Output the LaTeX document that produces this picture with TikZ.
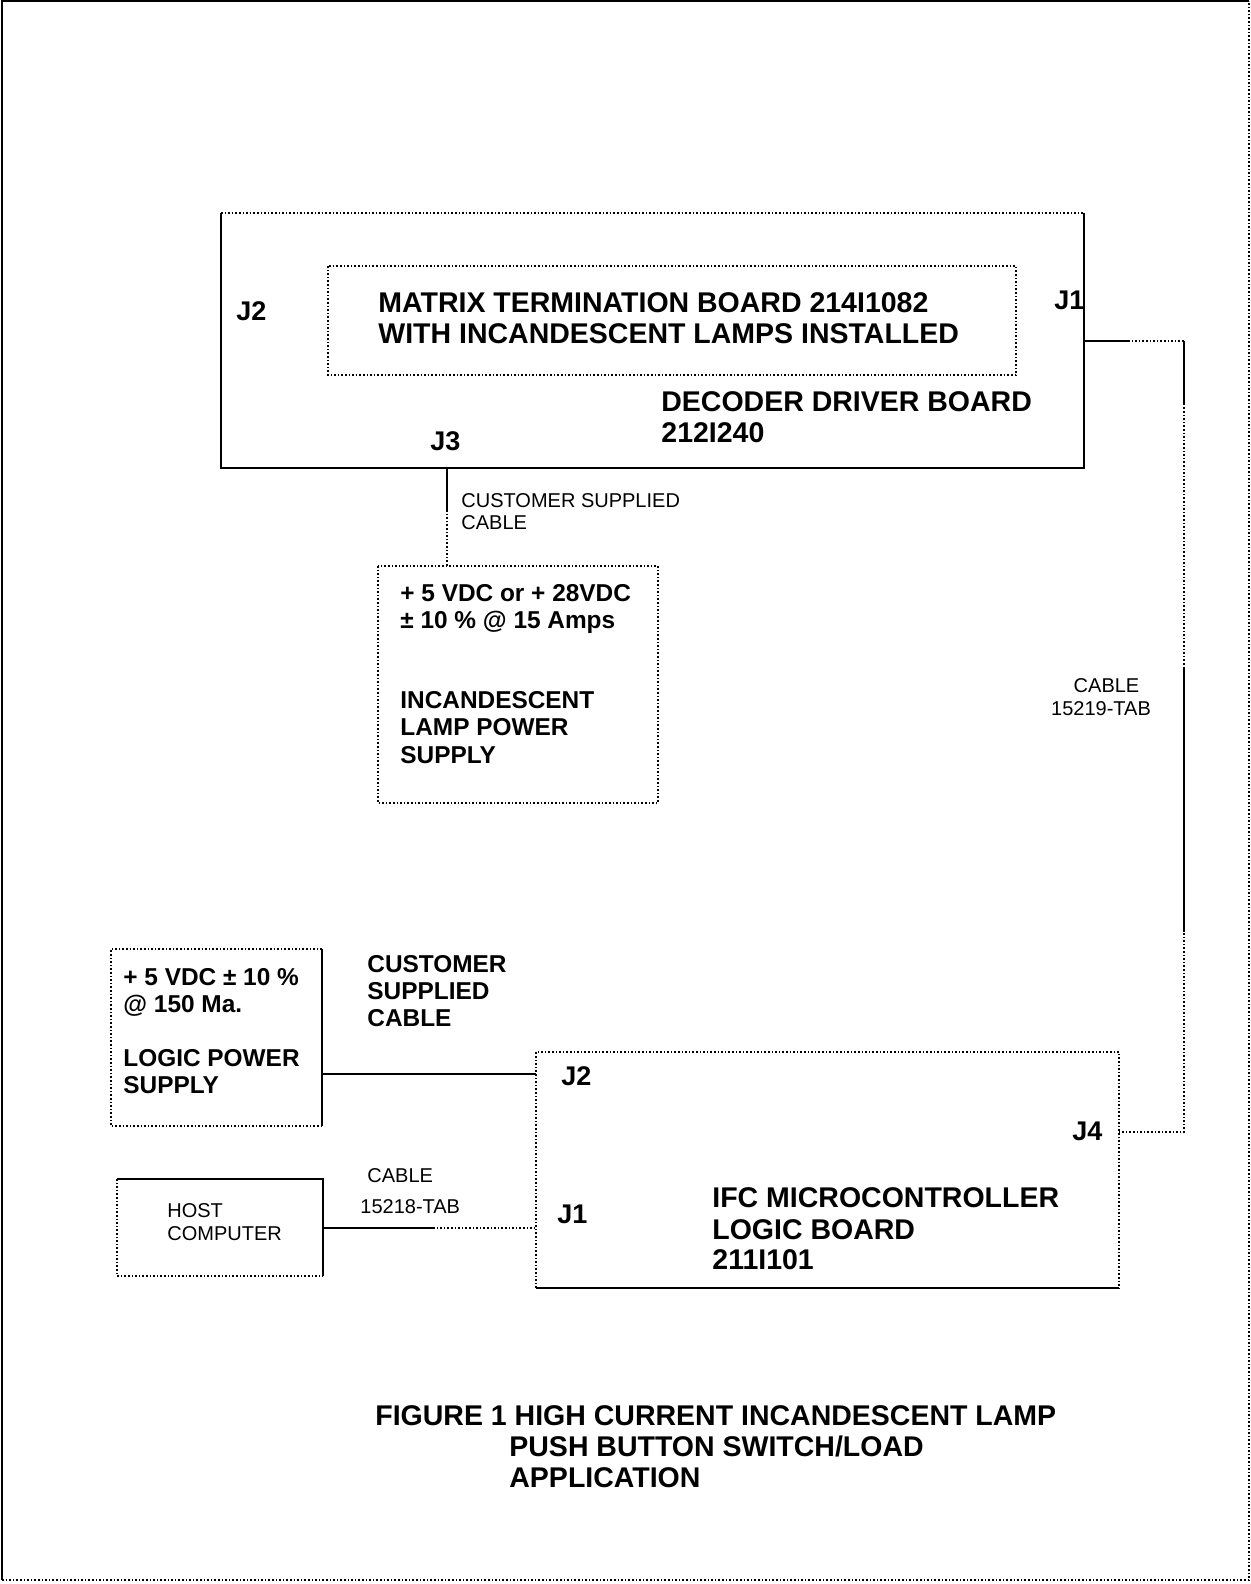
\documentclass[tikz,border=0pt]{standalone}
\usepackage{fontspec}
\setmainfont{Liberation Sans}
\usetikzlibrary{calc}
\tikzset{
  box/.style={rectangle,draw=none,inner sep=0pt,outer sep=0pt},
  sline/.style={line width=0.75pt},
  dline/.style={line width=0.8pt,densely dotted},
  bigt/.style={font=\fontsize{14.25}{16}\selectfont\bfseries,anchor=base west,inner sep=0pt},
  midt/.style={font=\fontsize{12.2}{14}\selectfont\bfseries,anchor=base west,inner sep=0pt},
  jt/.style={font=\fontsize{13.5}{15}\selectfont\bfseries,anchor=base west,inner sep=0pt},
  smt/.style={font=\fontsize{10}{12}\selectfont,anchor=base west,inner sep=0pt},
  smc/.style={font=\fontsize{10}{12}\selectfont,anchor=base,inner sep=0pt}
}
\begin{document}
\begin{tikzpicture}[x=0.5pt,y=-0.5pt]
\useasboundingbox (0,0) rectangle (1251,1584);
% outer frame
\draw[sline] (2,1580) -- (2,1) -- (1249,1);
\draw[dline] (2,1580) -- (1249,1580) -- (1249,1);

% boxes
\node[box,minimum width=431.5pt,minimum height=127.5pt] (dec) at (652.5,340.5) {};
\node[box,minimum width=344pt,minimum height=54.5pt] (mat) at (672,320.5) {};
\node[box,minimum width=140pt,minimum height=118.5pt] (lamp) at (518,684.5) {};
\node[box,minimum width=105.5pt,minimum height=88.5pt] (lps) at (216.5,1037.5) {};
\node[box,minimum width=291.5pt,minimum height=118pt] (ifc) at (827.5,1170) {};
\node[box,minimum width=103pt,minimum height=48.5pt] (host) at (220,1227.5) {};

% box outlines
\draw[dline] (dec.north west) -- (dec.north east);
\draw[sline] (dec.north east) -- (dec.south east) -- (dec.south west) -- (dec.north west);
\draw[dline] (mat.north west) rectangle (mat.south east);
\draw[dline] (lamp.north west) rectangle (lamp.south east);
\draw[dline] (lps.north east) -- (lps.north west) -- (lps.south west) -- (lps.south east);
\draw[sline] (lps.north east) -- (lps.south east);
\draw[dline] (ifc.south west) -- (ifc.north west) -- (ifc.north east) -- (ifc.south east);
\draw[sline] (ifc.south west) -- (ifc.south east);
\draw[sline] (host.north west) -- (host.north east) -- (host.south east);
\draw[dline] (host.north west) -- (host.south west) -- (host.south east);

% texts: decoder / matrix
\node[bigt] (mat1) at (378,312) {MATRIX TERMINATION BOARD 214I1082};
\node[bigt] (mat2) at (378,343.5) {WITH INCANDESCENT LAMPS INSTALLED};
\node[bigt] (dec1) at (661,411) {DECODER DRIVER BOARD};
\node[bigt] (dec2) at (661,442.5) {212I240};
\node[jt] (dj2) at (236,320) {J2};
\node[jt] (dj1) at (1054,309) {J1};
\node[jt] (dj3) at (430,450.5) {J3};

% customer supplied cable (small)
\node[smt] (cs1) at (461,507) {CUSTOMER SUPPLIED};
\node[smt] (cs2) at (461,529.5) {CABLE};

% lamp power supply
\node[midt] (lp1) at (400,601) {+ 5 VDC or + 28VDC};
\node[midt] (lp2) at (400,628.5) {± 10 \% @ 15 Amps};
\node[midt] (lp3) at (400,708) {INCANDESCENT};
\node[midt] (lp4) at (400,735.5) {LAMP POWER};
\node[midt] (lp5) at (400,763) {SUPPLY};

% cable 15219
\node[smc] (c19a) at (1106.5,692) {CABLE};
\node[smc] (c19b) at (1101,715) {15219-TAB};

% logic power supply
\node[midt] (lg1) at (123,985) {+ 5 VDC ± 10 \%};
\node[midt] (lg2) at (123,1012.5) {@ 150 Ma.};
\node[midt] (lg3) at (123,1066) {LOGIC POWER};
\node[midt] (lg4) at (123,1093) {SUPPLY};

\node[midt] (cb1) at (367,972) {CUSTOMER};
\node[midt] (cb2) at (367,999) {SUPPLIED};
\node[midt] (cb3) at (367,1026.5) {CABLE};

% IFC
\node[jt] (ij2) at (561,1085) {J2};
\node[jt] (ij4) at (1072,1140) {J4};
\node[jt] (ij1) at (557,1223.5) {J1};
\node[bigt] (if1) at (712,1207.5) {IFC MICROCONTROLLER};
\node[bigt] (if2) at (712,1239) {LOGIC BOARD};
\node[bigt] (if3) at (712,1269) {211I101};

% host
\node[smt] (h1) at (167,1217.5) {HOST};
\node[smt] (h2) at (167,1240) {COMPUTER};
\node[smt] (c18a) at (367,1182) {CABLE};
\node[smt] (c18b) at (360,1213.5) {15218-TAB};

% caption
\node[bigt] (cap1) at (375,1425) {FIGURE 1 HIGH CURRENT INCANDESCENT LAMP};
\node[bigt] (cap2) at (509,1456) {PUSH BUTTON SWITCH/LOAD};
\node[bigt] (cap3) at (509,1487) {APPLICATION};

% connectors
\coordinate (j3x) at (447,0);
\coordinate (j3m) at (447,510);
\draw[sline] (dec.south -| j3x) -- (j3m);
\draw[dline] (j3m) -- (lamp.north -| j3x);

\coordinate (c1y) at (0,341);
\coordinate (c4y) at (0,1132);
\coordinate (k1) at (1184,341);
\coordinate (k2) at (1184,1132);
\coordinate (hs) at (1128,341);
\coordinate (v1) at (1184,404);
\coordinate (v2) at (1184,668);
\coordinate (v3) at (1184,932);
\draw[sline] (dec.east |- c1y) -- (hs);
\draw[dline] (hs) -- (k1) -- (k2) -- (ifc.east |- c4y);
\draw[sline] (k1) -- (v1);
\draw[sline] (v2) -- (v3);

\coordinate (j2y) at (0,1074);
\draw[sline] (lps.east |- j2y) -- (ifc.west |- j2y);

\coordinate (j1y) at (0,1228);
\coordinate (hm) at (433,1228);
\draw[sline] (host.east |- j1y) -- (hm);
\draw[dline] (hm) -- (ifc.west |- j1y);
\end{tikzpicture}
\end{document}
